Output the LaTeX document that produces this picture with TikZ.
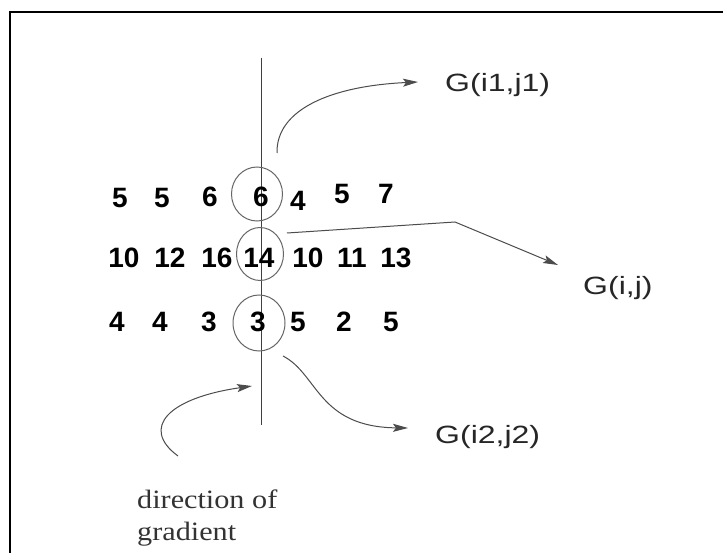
\documentclass[tikz,border=0pt]{standalone}
\usepackage{fontspec}
\setmainfont{Liberation Serif}
\newfontfamily\arial{Liberation Sans}
\usetikzlibrary{arrows.meta,shapes.geometric}

\tikzset{
  num/.style={inner sep=0pt, font=\arial\bfseries\fontsize{28}{30}\selectfont},
  ring/.style={ellipse, draw=black!60, line width=1pt, inner sep=0pt},
  glabel/.style={inner sep=0pt, anchor=base west, font=\arial\fontsize{25}{28}\selectfont, text=black!85},
  link/.style={draw=black!70, line width=1pt, -{Stealth[length=15pt,width=8pt,inset=3pt]}},
  frameline/.style={line width=2pt, black}
}

\begin{document}
\begin{tikzpicture}[x=1pt,y=-1pt]
  \useasboundingbox (0,0) rectangle (723,553);
  \fill[white] (0,0) rectangle (723,553);

  % open frame: top and left edges only
  \draw[frameline] (10,553) -- (10,12) -- (723,12);

  % gradient direction line
  \coordinate (vtop) at (261,58);
  \coordinate (vbot) at (261,425);
  \draw[black!75, line width=1pt] (vtop) -- (vbot);

  % value grid
  \foreach \v/\x/\y [count=\i] in {5/120/198, 5/162/198, 6/210/197, 6/261/197, 4/298/201, 5/342/194, 7/386/194}
    \node[num] (a\i) at (\x,\y) {\v};
  \foreach \v/\x/\y [count=\i] in {10/124/258, 12/170/258, 16/217/258, 14/259/258, 10/308/258, 11/352/258, 13/396/258}
    \node[num] (b\i) at (\x,\y) {\v};
  \foreach \v/\x/\y [count=\i] in {4/117/322, 4/160/322, 3/209/322, 3/258/322, 5/298/322, 2/344/322, 5/391/322}
    \node[num] (c\i) at (\x,\y) {\v};

  % circled neighbours along the gradient
  \node[ring, minimum width=51pt, minimum height=54pt] (top) at (257,194) {};
  \node[ring, minimum width=47pt, minimum height=53pt] (mid) at (260,254) {};
  \node[ring, minimum width=52pt, minimum height=56pt] (bot) at (259,323) {};

  % labels
  \node[glabel] (g1) at (445,92) {\scalebox{1.28}[1]{G(i1,j1)}};
  \node[glabel] (g0) at (583,295) {\scalebox{1.28}[1]{G(i,j)}};
  \node[glabel] (g2) at (435,443) {\scalebox{1.28}[1]{G(i2,j2)}};
  % two-line caption; its base anchor sits on the last line
  \node[inner sep=0pt, anchor=base west, align=left, text=black!80,
        font=\fontsize{26.5}{32}\selectfont] (dir) at (137,540)
        {\scalebox{1.14}[1]{direction of}\\\scalebox{1.14}[1]{gradient}};

  % connector end points
  \coordinate (s1) at (277,153);
  \coordinate (t1) at (418,82);
  \coordinate (s0) at (287,233);
  \coordinate (k0) at (455,222);
  \coordinate (t0) at (558,265);
  \coordinate (s2) at (283,356);
  \coordinate (t2) at (408,428);
  \coordinate (sd) at (178,456);
  \coordinate (td) at (252,386);

  % connectors
  \draw[link] (s1) .. controls (276,110) and (330,86) .. (t1);
  \draw[link] (s0) -- (k0) -- (t0);
  \draw[link] (s2) .. controls (318,374) and (318,427) .. (t2);
  \draw[link] (sd) .. controls (140,428) and (168,398) .. (td);
\end{tikzpicture}
\end{document}
